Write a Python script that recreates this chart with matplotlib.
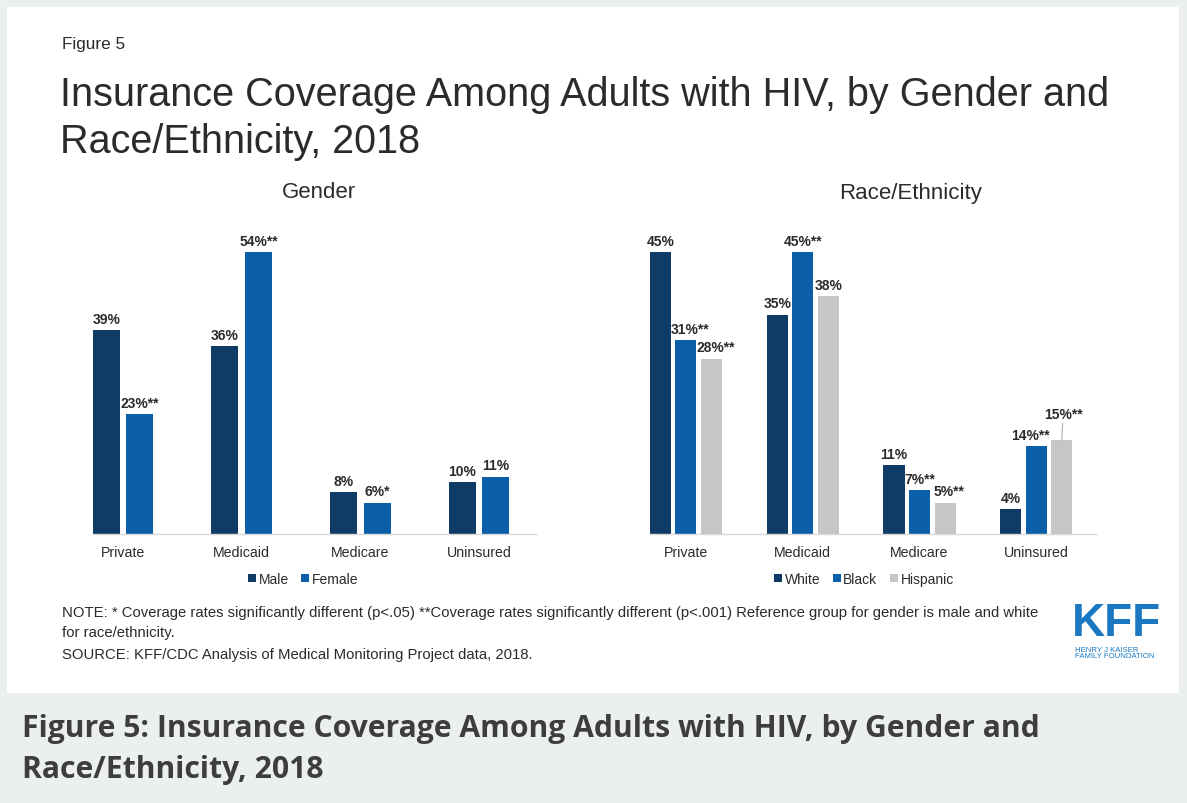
import matplotlib
matplotlib.use("Agg")
import matplotlib.pyplot as plt
from matplotlib.patches import Rectangle, Patch
import numpy as np

categories = ["Private", "Medicaid", "Medicare", "Uninsured"]

gender_names = ["Male", "Female"]
male = [39, 36, 8, 10]
female = [23, 54, 6, 11]
male_labels = ["39%", "36%", "8%", "10%"]
female_labels = ["23%**", "54%**", "6%*", "11%"]

race_names = ["White", "Black", "Hispanic"]
white = [45, 35, 11, 4]
black = [31, 45, 7, 14]
hispanic = [28, 38, 5, 15]
white_labels = ["45%", "35%", "11%", "4%"]
black_labels = ["31%**", "45%**", "7%**", "14%**"]
hispanic_labels = ["28%**", "38%", "5%**", "15%**"]

navy = "#0f3c66"
blue = "#0b5fa8"
grey = "#c6c6c6"
text_col = "#2b2b2b"

plt.rcParams["font.family"] = ["Liberation Sans", "DejaVu Sans"]

W, H = 1187, 804
fig = plt.figure(figsize=(W / 100, H / 100), dpi=100)
fig.patch.set_facecolor("#ebeff0")

def px(x, y):
    return x / W, 1 - y / H

# white panel behind everything
fig.patches.append(Rectangle(px(7, 694), 1172 / W, 686 / H, transform=fig.transFigure,
                             facecolor="white", edgecolor="none", zorder=-10))

fig.text(*px(62, 44), "Figure 5", fontsize=12.3, color=text_col, va="center")
fig.text(*px(60, 95), "Insurance Coverage Among Adults with HIV, by Gender and",
         fontsize=28.5, color=text_col, va="center")
fig.text(*px(60, 142), "Race/Ethnicity, 2018", fontsize=28.5, color=text_col, va="center")


def bar_panel(rect_px, xlim, series, labels, colors, names, width, offsets, title, title_x,
              legend_x, nudges=None):
    nudges = nudges or {}
    x0, x1, top, base = rect_px
    ax = fig.add_axes([x0 / W, 1 - base / H, (x1 - x0) / W, (base - top) / H])
    ymax = max(max(s) for s in series)
    x = np.arange(len(categories))
    for k, (s, lab, c, off) in enumerate(zip(series, labels, colors, offsets)):
        bars = ax.bar(x + off, s, width=width, color=c, zorder=2)
        for i, (b, t) in enumerate(zip(bars, lab)):
            dx, dy = nudges.get((k, i), (0, 0))
            props = None
            if dy > 4:
                props = dict(arrowstyle="-", color="#b0b0b0", lw=0.8, shrinkA=0, shrinkB=0)
            ax.annotate(t, (b.get_x() + b.get_width() / 2, b.get_height()),
                        xytext=(dx, 3 + dy), textcoords="offset points", ha="center", va="bottom",
                        fontsize=10, fontweight="bold", color=text_col, annotation_clip=False,
                        arrowprops=props)
    ax.set_ylim(0, ymax)
    ax.set_xlim(*xlim)
    ax.set_xticks(x)
    ax.set_xticklabels(categories, fontsize=10.2, color=text_col)
    ax.tick_params(axis="x", length=0, pad=8)
    ax.set_yticks([])
    for side in ["top", "right", "left"]:
        ax.spines[side].set_visible(False)
    ax.spines["bottom"].set_color("#d9d9d9")
    ax.spines["bottom"].set_linewidth(1)
    ax.patch.set_alpha(0)
    fig.text(*px(title_x, 193), title, fontsize=16, color=text_col, ha="center", va="center")
    handles = [Patch(facecolor=c, edgecolor="none") for c in colors]
    fig.legend(handles, names, loc="center", bbox_to_anchor=px(legend_x, 580), ncol=len(names),
               frameon=False, fontsize=10, handlelength=0.55, handleheight=0.55,
               handletextpad=0.2, columnspacing=0.9, labelcolor=text_col)
    return ax


bar_panel((93, 537, 253, 535), (-0.253, 3.49), [male, female], [male_labels, female_labels],
          [navy, blue], gender_names, 0.228, [-0.142, 0.142], "Gender", 319, 303)

# label nudges (points) for crowded race labels: (series, category) -> (dx, dy)
race_nudges = {(1, 0): (3, 0), (2, 0): (3, 0), (2, 2): (3, 0),
               (1, 3): (-4, 0), (2, 3): (1, 11)}
bar_panel((650, 1097, 253, 535), (-0.308, 3.52), [white, black, hispanic],
          [white_labels, black_labels, hispanic_labels],
          [navy, blue, grey], race_names, 0.18, [-0.2185, 0, 0.2185], "Race/Ethnicity", 911, 864,
          race_nudges)

fig.text(*px(62, 613), "NOTE: * Coverage rates significantly different (p<.05) **Coverage rates significantly "
         "different (p<.001) Reference group for gender is male and white",
         fontsize=10.7, color=text_col, va="center")
fig.text(*px(62, 633), "for race/ethnicity.", fontsize=10.7, color=text_col, va="center")
fig.text(*px(62, 655), "SOURCE: KFF/CDC Analysis of Medical Monitoring Project data, 2018.",
         fontsize=10.7, color=text_col, va="center")

kff_blue = "#1a78c2"
fig.text(*px(1116, 624), "KFF", fontsize=33, fontweight="bold",
         color=kff_blue, ha="center", va="center")
fig.text(*px(1075, 650), "HENRY J KAISER", fontsize=5.6, color=kff_blue, va="center")
fig.text(*px(1075, 657), "FAMILY FOUNDATION", fontsize=5.6, color=kff_blue, va="center")

cap_font = ["Open Sans", "DejaVu Sans"]
fig.text(*px(22, 729), "Figure 5: Insurance Coverage Among Adults with HIV, by Gender and",
         fontsize=21.7, fontweight="bold", family=cap_font, color="#3d3d3d", va="center")
fig.text(*px(22, 770), "Race/Ethnicity, 2018", fontsize=21.7, fontweight="bold", family=cap_font,
         color="#3d3d3d", va="center")

fig.savefig("out.png", dpi=100, facecolor=fig.get_facecolor())
